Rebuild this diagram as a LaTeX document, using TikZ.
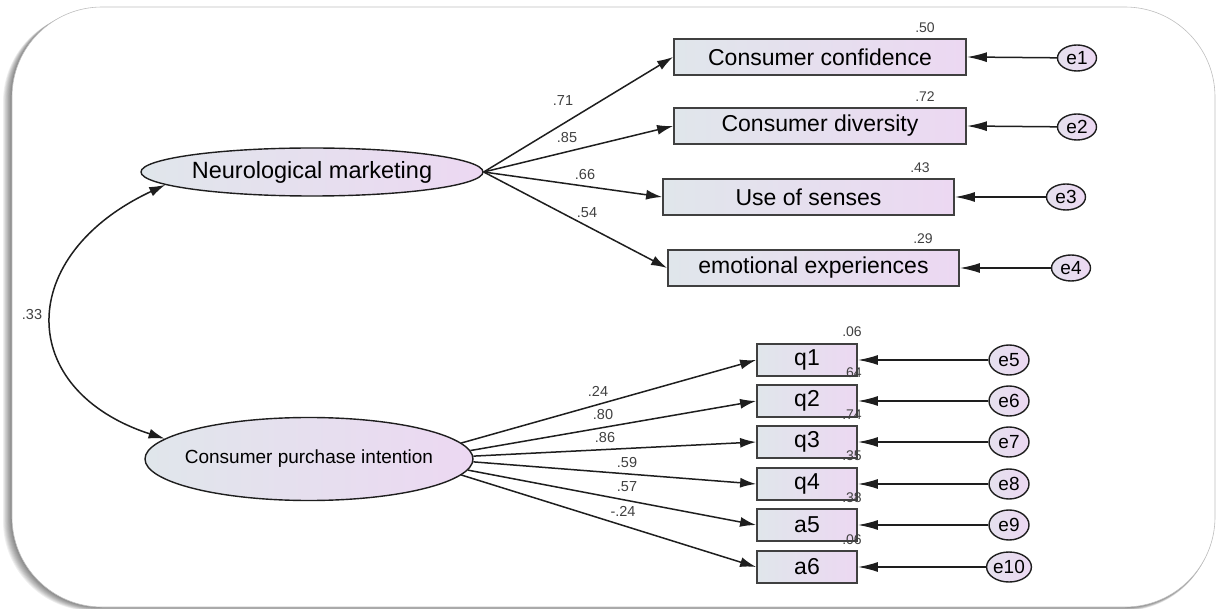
\documentclass[tikz,border=0pt]{standalone}
\usepackage{fontspec}
\setmainfont{Liberation Sans}
\usetikzlibrary{arrows.meta,shapes.geometric}
\definecolor{lc}{RGB}{224,230,235}
\definecolor{rc}{RGB}{236,216,242}
\definecolor{ink}{RGB}{30,30,30}
\tikzset{
  latent/.style={ellipse,draw=ink,line width=1.4pt,left color=lc,right color=rc,inner ysep=0pt,inner xsep=-12pt,text=black},
  obs/.style={rectangle,draw=ink!85,line width=1.8pt,left color=lc,right color=rc,inner sep=0pt,text=black,font=\fontsize{23}{26}\selectfont},
  err/.style={ellipse,draw=ink,line width=1.4pt,left color=lc!60!rc,right color=rc,inner sep=0pt,font=\fontsize{19}{21}\selectfont},
  arr/.style={draw=ink,line width=1.5pt,-{Latex[length=16pt,width=10pt]}},
  earr/.style={draw=ink,line width=1.5pt,-{Latex[length=20pt,width=10pt]}},
  rsq/.style={font=\fontsize{14}{15}\selectfont,text=ink!85,inner sep=0pt},
  coef/.style={font=\fontsize{14.5}{16}\selectfont,text=ink!85,inner sep=0pt}
}
\begin{document}
\begin{tikzpicture}[x=1pt,y=-1pt]
\useasboundingbox (0,0) rectangle (1221,609);
% frame with shadow
\foreach \d in {1,...,10}{
  \fill[black,opacity=0.06,rounded corners=90pt] (12-\d*0.9,7+\d*0.5) rectangle (1215-\d*0.2,607+\d*0.4);
}
\fill[white,draw=black!25,line width=0.6pt,rounded corners=90pt] (12,7) rectangle (1215,607);

% latent variables
\node[latent,minimum width=342pt,minimum height=48pt,font=\fontsize{23.5}{26}\selectfont] (nm) at (312,172) {Neurological marketing};
\node[latent,minimum width=328pt,minimum height=83pt,font=\fontsize{19}{22}\selectfont] (cpi) at (309,459) {Consumer purchase intention};

% top indicators
\node[obs,minimum width=292pt,minimum height=36pt] (b1) at (820,57) {Consumer confidence};
\node[obs,minimum width=292pt,minimum height=36pt] (b2) at (820,126) {Consumer diversity};
\node[obs,minimum width=291pt,minimum height=36pt] (b3) at (808.5,197) {Use of senses};
\node[obs,minimum width=291pt,minimum height=36pt] (b4) at (813.5,268) {emotional experiences};

\node[err,minimum width=39pt,minimum height=26pt] (e1) at (1077,58) {e1};
\node[err,minimum width=39pt,minimum height=26pt] (e2) at (1077,127) {e2};
\node[err,minimum width=39pt,minimum height=26pt] (e3) at (1066,197) {e3};
\node[err,minimum width=39pt,minimum height=26pt] (e4) at (1071,268) {e4};

% bottom indicators
\node[obs,minimum width=100pt,minimum height=32pt] (q1) at (807,360) {q1};
\node[obs,minimum width=100pt,minimum height=32pt] (q2) at (807,401) {q2};
\node[obs,minimum width=100pt,minimum height=32pt] (q3) at (807,442) {q3};
\node[obs,minimum width=100pt,minimum height=32pt] (q4) at (807,484) {q4};
\node[obs,minimum width=100pt,minimum height=32pt] (a5) at (807,525) {a5};
\node[obs,minimum width=100pt,minimum height=32pt] (a6) at (807,567) {a6};

\node[err,minimum width=40pt,minimum height=30pt] (e5) at (1009,360) {e5};
\node[err,minimum width=40pt,minimum height=30pt] (e6) at (1009,401) {e6};
\node[err,minimum width=40pt,minimum height=30pt] (e7) at (1009,442) {e7};
\node[err,minimum width=40pt,minimum height=30pt] (e8) at (1009,484) {e8};
\node[err,minimum width=40pt,minimum height=30pt] (e9) at (1009,525) {e9};
\node[err,minimum width=40pt,minimum height=30pt] (e10) at (1009,567) {e10};

% loadings
\draw[arr] (nm.east) -- (b1.west);
\draw[arr] (nm.east) -- (b2.west);
\draw[arr] (nm.east) -- (b3.west);
\draw[arr] (nm.east) -- (b4.west);
\draw[arr] (cpi.6) -- (q1.west);
\draw[arr] (cpi.3.5) -- (q2.west);
\draw[arr] (cpi.1) -- (q3.west);
\draw[arr] (cpi.-1.5) -- (q4.west);
\draw[arr] (cpi.-4) -- (a5.west);
\draw[arr] (cpi.-6.5) -- (a6.west);

% errors
\draw[earr] (e1) -- (b1.east);
\draw[earr] (e2) -- (b2.east);
\draw[earr] (e3) -- (b3.east);
\draw[earr] (e4) -- (b4.east);
\draw[earr] (e5) -- (q1.east);
\draw[earr] (e6) -- (q2.east);
\draw[earr] (e7) -- (q3.east);
\draw[earr] (e8) -- (q4.east);
\draw[earr] (e9) -- (a5.east);
\draw[earr] (e10) -- (a6.east);

% covariance
\draw[draw=ink,line width=1.5pt,{Latex[length=16pt,width=10pt]}-{Latex[length=16pt,width=10pt]}] (nm.185) .. controls (15,255) and (15,390) .. (cpi.172);
\node[coef] (c33) at (32,315) {.33};

% coefficients
\node[coef] (l1) at (563,101) {.71};
\node[coef] (l2) at (567,138) {.85};
\node[coef] (l3) at (585,175) {.66};
\node[coef] (l4) at (587,213) {.54};
\node[coef] (l5) at (598,391) {.24};
\node[coef] (l6) at (603,415) {.80};
\node[coef] (l7) at (605,438) {.86};
\node[coef] (l8) at (627,463) {.59};
\node[coef] (l9) at (627,487) {.57};
\node[coef] (l10) at (623,511) {-.24};

% squared multiple correlations
\node[rsq] (r1) at (925,28) {.50};
\node[rsq] (r2) at (925,97) {.72};
\node[rsq] (r3) at (920,168) {.43};
\node[rsq] (r4) at (923,239) {.29};
\node[rsq] (r5) at (852,332) {.06};
\node[rsq] (r6) at (852,373) {.64};
\node[rsq] (r7) at (852,415) {.74};
\node[rsq] (r8) at (852,456) {.35};
\node[rsq] (r9) at (852,498) {.38};
\node[rsq] (r10) at (852,540) {.06};
\end{tikzpicture}
\end{document}
